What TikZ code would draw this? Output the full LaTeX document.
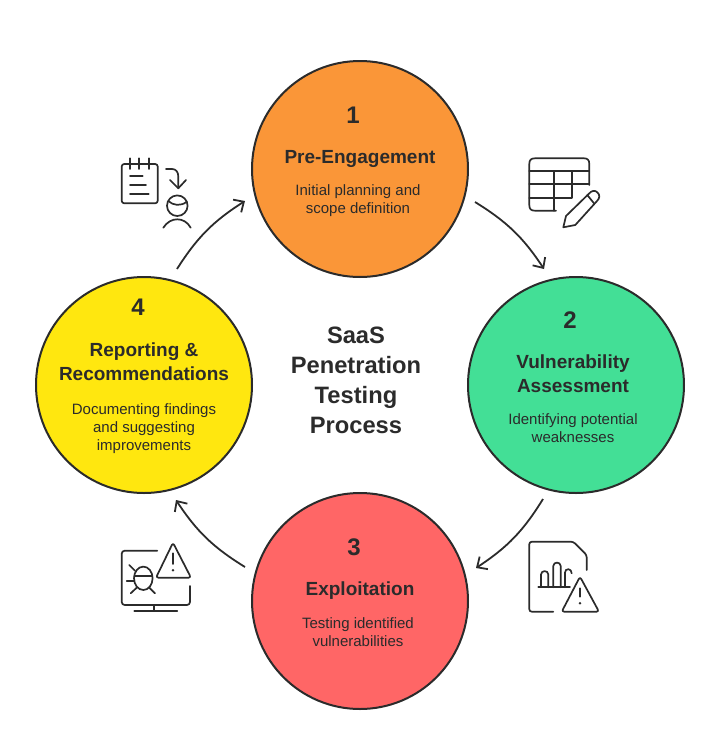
\documentclass[tikz,border=0pt]{standalone}
\usepackage{fontspec}
\setmainfont{Liberation Sans}
\usetikzlibrary{arrows.meta}

\definecolor{inkdark}{HTML}{2B2B2B}
\definecolor{stepone}{HTML}{FA9638}
\definecolor{steptwo}{HTML}{43DF96}
\definecolor{stepthree}{HTML}{FF6666}
\definecolor{stepfour}{HTML}{FFE70F}

\begin{document}
\begin{tikzpicture}[
				x=1pt,y=-1pt,
				every node/.style={text=inkdark,align=center,inner sep=0pt},
				disc/.style={circle,draw=inkdark,line width=2pt,minimum size=216pt},
				num/.style={font=\fontsize{24}{24}\selectfont\bfseries},
				head/.style={font=\fontsize{19}{24}\selectfont\bfseries},
				desc/.style={font=\fontsize{15}{18}\selectfont},
				middle/.style={font=\fontsize{23.7}{30}\selectfont\bfseries},
				flow/.style={draw=inkdark,line width=1.8pt,-{Straight Barb[length=8pt,width=15pt,line width=1.8pt]}},
				icon/.style={draw=inkdark,line width=1.7pt,line cap=round,line join=round}
				]
				\useasboundingbox (0,0) rectangle (720,745);

				\node[disc,fill=stepone] (c1) at (360,169) {};
				\node[disc,fill=steptwo] (c2) at (576,385) {};
				\node[disc,fill=stepthree] (c3) at (360,601) {};
				\node[disc,fill=stepfour] (c4) at (144,385) {};

				\node[num] (n1) at (353,115) {1};
				\node[head] (h1) at (360,159) {Pre-Engagement};
				\node[desc] (d1) at (358,200.5) {Initial planning and\\scope definition};

				\node[num] (n2) at (570,320) {2};
				\node[head] (h2) at (573,374) {Vulnerability\\Assessment};
				\node[desc] (d2) at (573,428.5) {Identifying potential\\weaknesses};

				\node[num] (n3) at (354,547) {3};
				\node[head] (h3) at (360,591) {Exploitation};
				\node[desc] (d3) at (358,632.5) {Testing identified\\vulnerabilities};

				\node[num] (n4) at (138,307) {4};
				\node[head] (h4) at (144,362) {Reporting \&\\Recommendations};
				\node[desc] (d4) at (144,428.5) {Documenting findings\\and suggesting\\improvements};

				\node[middle] (title) at (356,380) {SaaS\\Penetration\\Testing\\Process};

				% arrows round the ring
				\coordinate (a1s) at (475,202);
				\coordinate (a1e) at (544,269);
				\coordinate (a2s) at (543,499);
				\coordinate (a2e) at (476,568);
				\coordinate (a3s) at (245,567);
				\coordinate (a3e) at (176,500);
				\coordinate (a4s) at (177,269);
				\coordinate (a4e) at (245,201);
				\draw[flow] (a1s) to[bend left=12.5] (a1e);
				\draw[flow] (a2s) to[bend left=12.5] (a2e);
				\draw[flow] (a3s) to[bend left=12.5] (a3e);
				\draw[flow] (a4s) to[bend left=12.5] (a4e);

				% notepad and person
				\draw[icon,rounded corners=2.5pt] (121.7,164) rectangle (157.7,203.3);
				\foreach \x in {130,139.3,148.7}
					\draw[icon] (\x,158.3) -- (\x,169);
				\draw[icon] (130,176) -- (142.7,176);
				\draw[icon] (130,185) -- (146,185);
				\draw[icon] (130,194) -- (148.7,194);
				\draw[icon] (166,169) -- (172,169) .. controls (176,169) and (178.3,172) .. (178.3,176.7) -- (178.3,188);
				\draw[icon] (170,180) -- (178.3,188.3) -- (186,180);
				\draw[icon] (177.3,205.7) circle (10.3);
				\draw[icon] (168.3,201) .. controls (173,205.5) and (181,206.5) .. (186.7,201.7);
				\draw[icon] (163.3,227.7) .. controls (167,222) and (172,219.3) .. (177.3,219.3) .. controls (182.5,219.3) and (187.5,222) .. (190.7,227.7);

				% table and pencil
				\draw[icon] (589.3,185) -- (589.3,164) .. controls (589.3,160) and (587.5,158.3) .. (584,158.3) -- (535,158.3) .. controls (531,158.3) and (529.3,160) .. (529.3,164) -- (529.3,205) .. controls (529.3,209) and (531,210.7) .. (535,210.7) -- (556,210.7);
				\draw[icon] (529.3,171) -- (589.3,171);
				\draw[icon] (529.3,184) -- (589.3,184);
				\draw[icon] (529.3,197.7) -- (571.7,197.7);
				\draw[icon] (554,171) -- (554,210.7);
				\draw[icon] (571.7,171) -- (571.7,197.7);
				\draw[icon] (563.3,227.3) -- (566,216) -- (588.3,194.3) .. controls (592,190) and (595,190) .. (597.5,192.5) .. controls (600,195) and (600,198) .. (597,201) -- (575.3,225) -- cycle;
				\draw[icon] (587.3,195) -- (594,203.3);

				% report and warning
				\draw[icon,rounded corners=2.5pt] (553.3,611.7) -- (529.3,611.7) -- (529.3,541.7) -- (573.3,541.7) -- (586.7,555) -- (586.7,570);
				\draw[icon] (538.3,587.3) -- (570,587.3);
				\draw[icon] (541,587.3) -- (541,574.5) .. controls (541,570) and (548.3,570) .. (548.3,574.5) -- (548.3,587.3);
				\draw[icon] (553.3,587.3) -- (553.3,566) .. controls (553.3,561.5) and (560.7,561.5) .. (560.7,566) -- (560.7,587.3);
				\draw[icon] (565,587.3) -- (565,572.5) .. controls (565,568) and (571.7,568) .. (571.7,573.3);
				\draw[icon,rounded corners=2.5pt] (580,576.7) -- (599,611.7) -- (561.7,611.7) -- cycle;
				\draw[icon] (580,588.3) -- (580,596.7);
				\fill[inkdark] (580,603.3) circle (1.4);

				% monitor with bug and warning
				\draw[icon,rounded corners=3pt] (157.3,550.7) -- (121.7,550.7) -- (121.7,605) -- (190,605) -- (190,586);
				\draw[icon] (154,605) -- (154,610.7);
				\draw[icon] (134.3,610.7) -- (177.3,610.7);
				\draw[icon] (143.3,578.3) ellipse (9.3 and 11.7);
				\draw[icon] (134.3,576) -- (152.3,576);
				\draw[icon] (129.3,565) -- (135,570.7);
				\draw[icon] (126.7,580.7) -- (134,580.7);
				\draw[icon] (130.7,593.3) -- (136.7,587.7);
				\draw[icon] (155,593.3) -- (149.3,587.7);
				\draw[icon,rounded corners=2.5pt] (173,542.7) -- (191,577.7) -- (156,577.7) -- cycle;
				\draw[icon] (173,553.3) -- (173,564);
				\fill[inkdark] (173,570.3) circle (1.4);
			\end{tikzpicture}
\end{document}
